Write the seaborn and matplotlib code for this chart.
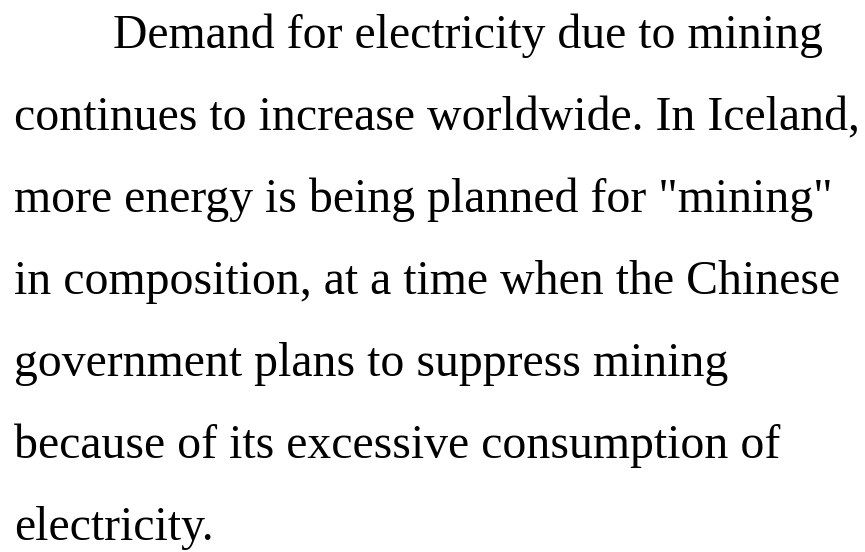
import matplotlib
matplotlib.use('Agg')
import matplotlib.pyplot as plt
import seaborn as sns

# 文本内容（每行一条）
lines = [
    'Demand for electricity due to mining',
    'continues to increase worldwide. In Iceland,',
    'more energy is being planned for "mining"',
    'in composition, at a time when the Chinese',
    'government plans to suppress mining',
    'because of its excessive consumption of',
    'electricity.',
]

sns.set_theme(style='white')
plt.rcParams['font.family'] = ['Liberation Serif', 'DejaVu Serif']

W, H = 865, 552
fig = plt.figure(figsize=(W / 100, H / 100), dpi=100)
ax = fig.add_axes([0, 0, 1, 1])
ax.set_xlim(0, W)
ax.set_ylim(H, 0)
ax.axis('off')

x0, indent = 14, 113      # 首行缩进
y0, step = 48, 82         # 基线位置 / 行距
for i, s in enumerate(lines):
    ax.text(indent if i == 0 else x0, y0 + i * step, s, fontsize=34.4,
            color='black', va='baseline', ha='left')

fig.savefig('out.png', dpi=100, facecolor='white')
